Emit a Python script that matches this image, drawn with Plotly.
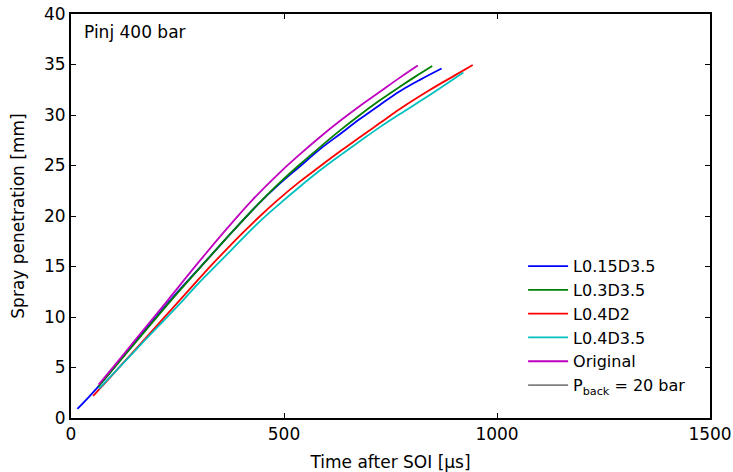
import plotly.graph_objects as go

# Data (time after SOI [us], spray penetration [mm])
blue_x = [15, 40, 64, 150, 236, 318, 380, 440, 490, 537, 584, 631, 678, 725, 772, 820, 870]
blue_y = [0.9, 2.0, 3.1, 7.5, 11.8, 15.6, 18.5, 21.2, 23.2, 24.9, 26.6, 28.1, 29.6, 31.0, 32.35, 33.5, 34.6]

green_x = [64, 150, 236, 318, 380, 440, 490, 537, 584, 631, 678, 725, 772, 810, 848]
green_y = [3.1, 7.4, 11.7, 15.6, 18.5, 21.2, 23.3, 25.1, 26.8, 28.45, 30.0, 31.45, 32.8, 33.85, 34.85]

red_x = [52, 100, 160, 256, 303, 338, 400, 444, 483, 537, 584, 635, 678, 725, 772, 843, 900, 943]
red_y = [2.2, 4.4, 7.2, 11.7, 13.9, 15.5, 18.2, 20.0, 21.5, 23.4, 24.9, 26.5, 27.8, 29.2, 30.6, 32.5, 33.9, 34.95]

cyan_x = [66, 160, 264, 303, 350, 444, 495, 537, 584, 635, 678, 725, 772, 843, 921]
cyan_y = [2.9, 7.1, 11.7, 13.5, 15.5, 19.5, 21.4, 22.9, 24.5, 26.1, 27.4, 28.8, 30.1, 32.0, 34.2]

mag_x = [65, 110, 154, 228, 303, 370, 426, 490, 537, 584, 631, 678, 725, 772, 814]
mag_y = [3.3, 5.6, 7.9, 11.7, 15.6, 18.95, 21.6, 24.3, 26.1, 27.8, 29.4, 30.9, 32.3, 33.7, 34.9]

names = ["L0.15D3.5", "L0.3D3.5", "L0.4D2", "L0.4D3.5", "Original"]
colors = ["#0000FF", "#008000", "#FF0000", "#00BFBF", "#BF00BF"]
series = [(blue_x, blue_y), (green_x, green_y), (red_x, red_y), (cyan_x, cyan_y), (mag_x, mag_y)]

x_ticks = [0, 500, 1000, 1500]
y_ticks = [0, 5, 10, 15, 20, 25, 30, 35, 40]

font = "DejaVu Sans, Liberation Sans, Arial, sans-serif"
FS = 17

fig = go.Figure()
for (xs, ys), n, c in zip(series, names, colors):
    fig.add_trace(go.Scatter(x=xs, y=ys, mode="lines", name=n,
                             line=dict(color=c, width=1.8, shape="spline")))
fig.add_trace(go.Scatter(x=[None], y=[None], mode="lines",
                         name="P<sub>back</sub> = 20 bar",
                         line=dict(color="#808080", width=1.8)))

axis_common = dict(showline=True, linewidth=2, linecolor="black", mirror="allticks",
                   ticks="inside", ticklen=5, tickwidth=1, tickcolor="black",
                   showgrid=False, zeroline=False, automargin=False,
                   tickfont=dict(family=font, size=FS, color="black"))

fig.update_layout(
    width=733, height=472,
    margin=dict(l=71, r=23, t=14, b=54, autoexpand=False),
    paper_bgcolor="white", plot_bgcolor="white",
    font=dict(family=font, size=FS, color="black"),
    showlegend=True,
    legend=dict(x=0.7075, y=0.418, xanchor="left", yanchor="top",
                bgcolor="rgba(255,255,255,0)", borderwidth=0,
                font=dict(family=font, size=16, color="black"),
                itemwidth=40),
    xaxis=dict(range=[0, 1500], tickvals=x_ticks,
               title=dict(text="Time after SOI [µs]",
                          font=dict(family=font, size=FS, color="black")),
               **axis_common),
    yaxis=dict(range=[0, 40], tickvals=y_ticks,
               title=dict(text="Spray penetration [mm]",
                          font=dict(family=font, size=FS, color="black")),
               **axis_common),
    annotations=[dict(text="Pinj 400 bar", xref="paper", yref="paper",
                      x=0.017, y=0.986, xanchor="left", yanchor="top",
                      showarrow=False, font=dict(family=font, size=FS, color="black"))],
)

fig.write_html("out.html")
